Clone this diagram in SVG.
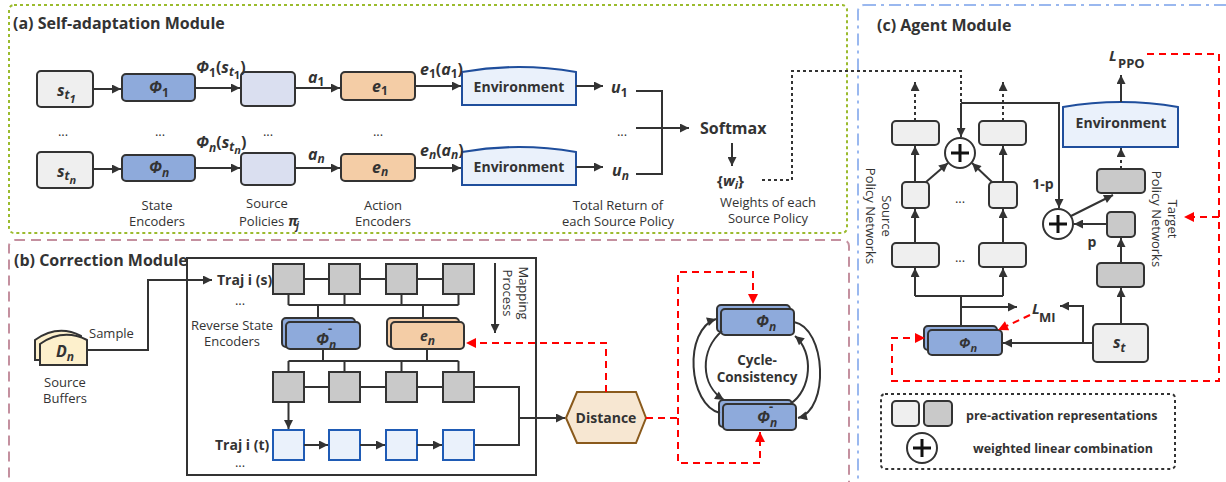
<svg xmlns="http://www.w3.org/2000/svg" width="1226" height="482" viewBox="0 0 1226 482">
<style>
text{font-family:"Open Sans","Noto Sans","DejaVu Sans",sans-serif;fill:#333}
.t{font-size:16px;font-weight:bold}
.lb{font-size:13px}
.b{font-size:14px;font-weight:bold}
.m{font-size:16px;font-weight:bold;font-style:italic}
.mn{font-size:13px;font-weight:bold}
.bx{stroke:#333;stroke-width:2}
.g1{fill:#efefef}.bl{fill:#8eaadb}.pc{fill:#f4cda6}.lv{fill:#dadff0}.dg{fill:#c9c9c9}.lb2{fill:#eaf1fb;stroke:#1f5bb5;stroke-width:2}
.env{fill:#eaf1fb;stroke:#1f4e9c;stroke-width:2}
.ln{fill:none;stroke:#333;stroke-width:2}
.ar{marker-end:url(#ah)}
.dt{fill:none;stroke:#333;stroke-width:2;stroke-dasharray:3,3}
.rd{fill:none;stroke:#f00;stroke-width:2;stroke-dasharray:7,5}
.ra{marker-end:url(#rh)}
</style>
<defs>
<marker id="ah" viewBox="0 0 10 10" refX="10" refY="5" markerWidth="12" markerHeight="9" markerUnits="userSpaceOnUse" orient="auto"><path d="M0,0L10,5L0,10z" fill="#333"/></marker>
<marker id="rh" viewBox="0 0 10 10" refX="10" refY="5" markerWidth="14" markerHeight="10" markerUnits="userSpaceOnUse" orient="auto"><path d="M0,0L10,5L0,10z" fill="#f00"/></marker>
<g id="plus"><circle r="15" fill="#fff" stroke="#333" stroke-width="2"/><path d="M-9,0H9M0,-9V9" stroke="#111" stroke-width="3"/></g>
</defs>
<rect width="1226" height="482" fill="#fff"/>

<!-- frames -->
<g id="frames">
<rect x="9" y="5" width="838" height="228" rx="5" fill="none" stroke="#9bbb2e" stroke-width="2" stroke-dasharray="3,3"/>
<rect x="9" y="240" width="840" height="262" rx="6" fill="none" stroke="#c4909f" stroke-width="2" stroke-dasharray="10,6"/>
<rect x="858" y="5" width="390" height="500" rx="6" fill="none" stroke="#9ab8ef" stroke-width="2" stroke-dasharray="12,5,3,5"/>
<text x="13" y="29" class="t">(a) Self-adaptation Module</text>
<text x="14" y="266" class="t">(b) Correction Module</text>
<text x="877" y="31" class="t">(c) Agent Module</text>
</g>

<!-- (a) nodes -->
<g id="a-s1"><rect x="37" y="71" width="56" height="36" rx="4" class="bx g1"/><text x="57" y="96" class="m">s<tspan font-size="12" dy="3">t</tspan><tspan font-size="11" dy="4">1</tspan></text></g>
<g id="a-sn"><rect x="37" y="152" width="56" height="36" rx="4" class="bx g1"/><text x="57" y="177" class="m">s<tspan font-size="12" dy="3">t</tspan><tspan font-size="11" dy="4">n</tspan></text></g>
<g id="a-phi1"><rect x="122" y="74" width="73" height="27" rx="4" class="bx bl"/><text x="149" y="93" class="m">Φ<tspan font-size="12" dy="4" font-style="normal">1</tspan></text></g>
<g id="a-phin"><rect x="122" y="155" width="73" height="26" rx="4" class="bx bl"/><text x="149" y="173" class="m">Φ<tspan font-size="12" dy="4">n</tspan></text></g>
<g id="a-pi1"><rect x="241" y="72" width="54" height="34" rx="4" class="bx lv"/></g>
<g id="a-pin"><rect x="241" y="153" width="54" height="32" rx="4" class="bx lv"/></g>
<g id="a-e1"><rect x="341" y="72" width="74" height="28" rx="4" class="bx pc"/><text x="372" y="92" class="m">e<tspan font-size="12" dy="3" font-style="normal">1</tspan></text></g>
<g id="a-en"><rect x="341" y="154" width="74" height="27" rx="4" class="bx pc"/><text x="372" y="173" class="m">e<tspan font-size="12" dy="3">n</tspan></text></g>
<g id="a-env1"><path d="M462,72Q519,62 576,72V105H462Z" class="env"/><text x="519" y="92" class="b" text-anchor="middle">Environment</text></g>
<g id="a-envn"><path d="M462,152Q519,142 576,152V185H462Z" class="env"/><text x="519" y="172" class="b" text-anchor="middle">Environment</text></g>
<g id="a-softmax"><text x="700" y="134" class="t">Softmax</text></g>
<g id="a-labels" class="lb">
<text x="157" y="210" class="lb" text-anchor="middle">State</text><text x="157" y="226" class="lb" text-anchor="middle">Encoders</text>
<text x="267" y="208" class="lb" text-anchor="middle">Source</text><text x="239" y="226" class="lb">Policies</text><text x="288" y="226" font-size="14" font-weight="bold" font-style="italic">π</text><text x="296" y="229" font-size="10" font-weight="bold" font-style="italic">j</text>
<text x="383" y="210" class="lb" text-anchor="middle">Action</text><text x="383" y="226" class="lb" text-anchor="middle">Encoders</text>
<text x="618" y="210" class="lb" text-anchor="middle">Total Return of</text><text x="618" y="226" class="lb" text-anchor="middle">each Source Policy</text>
<text x="768" y="207" class="lb" text-anchor="middle">Weights of each</text><text x="768" y="223" class="lb" text-anchor="middle">Source Policy</text>
<text x="63" y="136" class="lb" text-anchor="middle">...</text><text x="160" y="136" class="lb" text-anchor="middle">...</text><text x="268" y="136" class="lb" text-anchor="middle">...</text><text x="378" y="136" class="lb" text-anchor="middle">...</text><text x="622" y="136" class="lb" text-anchor="middle">...</text>
</g>
<g id="a-math">
<text x="196" y="73" class="m">Φ<tspan font-size="12" dy="4" font-style="normal">1</tspan><tspan dy="-4" font-style="normal">(</tspan>s<tspan font-size="12" dy="3">t</tspan><tspan font-size="11" dy="3" font-style="normal">1</tspan><tspan dy="-6" font-style="normal">)</tspan></text>
<text x="196" y="148" class="m">Φ<tspan font-size="12" dy="4">n</tspan><tspan dy="-4" font-style="normal">(</tspan>s<tspan font-size="12" dy="3">t</tspan><tspan font-size="11" dy="3">n</tspan><tspan dy="-6" font-style="normal">)</tspan></text>
<text x="308" y="83" class="m">a<tspan font-size="12" dy="3" font-style="normal">1</tspan></text>
<text x="308" y="160" class="m">a<tspan font-size="12" dy="3">n</tspan></text>
<text x="420" y="75" class="m">e<tspan font-size="12" dy="3" font-style="normal">1</tspan><tspan dy="-3" font-style="normal">(</tspan>a<tspan font-size="12" dy="3" font-style="normal">1</tspan><tspan dy="-3" font-style="normal">)</tspan></text>
<text x="420" y="156" class="m">e<tspan font-size="12" dy="3">n</tspan><tspan dy="-3" font-style="normal">(</tspan>a<tspan font-size="12" dy="3">n</tspan><tspan dy="-3" font-style="normal">)</tspan></text>
<text x="611" y="93" class="m">u<tspan font-size="12" dy="4" font-style="normal">1</tspan></text>
<text x="612" y="176" class="m">u<tspan font-size="12" dy="4">n</tspan></text>
<text x="717" y="186" font-size="15" font-weight="bold">{<tspan font-style="italic">w</tspan><tspan font-style="italic" font-size="11" dy="3">i</tspan><tspan dy="-3">}</tspan></text>
</g>

<!-- (b) nodes -->
<g id="b-buffer"><path d="M35,340Q58,324 81,336V360H35Z" fill="#fdf0cc" stroke="#333" stroke-width="2"/><path d="M40,344Q63,328 87,340V365H40Z" fill="#fdf0cc" stroke="#333" stroke-width="2"/><text x="56" y="357" class="m">D<tspan font-size="12" dy="4">n</tspan></text>
<text x="65" y="387" class="lb" text-anchor="middle">Source</text><text x="65" y="403" class="lb" text-anchor="middle">Buffers</text><text x="89" y="338" class="lb">Sample</text></g>
<g id="b-frame"><rect x="187" y="258" width="349" height="217" fill="none" stroke="#333" stroke-width="2"/></g>
<g id="b-traj-s">
<text x="217" y="285" class="b">Traj i (s)</text><text x="240" y="305" class="lb" text-anchor="middle">...</text>
<path d="M304,279H443" class="ln"/>
<rect x="273" y="264" width="31" height="30" class="bx dg"/><rect x="329" y="264" width="31" height="30" class="bx dg"/><rect x="386" y="264" width="31" height="30" class="bx dg"/><rect x="443" y="264" width="31" height="30" class="bx dg"/>
</g>
<g id="b-rev"><text x="232" y="330" class="lb" text-anchor="middle">Reverse State</text><text x="232" y="346" class="lb" text-anchor="middle">Encoders</text>
<rect x="282" y="318" width="73" height="29" rx="4" class="bx bl"/><rect x="286" y="322" width="74" height="27" rx="4" class="bx bl"/>
<text x="316" y="345" class="m">Φ<tspan font-size="12" dy="4">n</tspan></text><text x="328" y="333" class="mn">-</text></g>
<g id="b-en"><rect x="387" y="318" width="72" height="29" rx="4" class="bx pc"/><rect x="391" y="322" width="73" height="27" rx="4" class="bx pc"/><text x="420" y="341" font-size="14" font-weight="bold" font-style="italic">e<tspan font-size="12" dy="4">n</tspan></text></g>
<g id="b-row2">
<path d="M304,387H519V445H474" class="ln"/>
<rect x="273" y="372" width="31" height="30" class="bx dg"/><rect x="329" y="372" width="31" height="30" class="bx dg"/><rect x="386" y="372" width="31" height="30" class="bx dg"/><rect x="443" y="372" width="31" height="30" class="bx dg"/>
</g>
<g id="b-traj-t">
<text x="215" y="450" class="b">Traj i (t)</text><text x="240" y="467" class="lb" text-anchor="middle">...</text>
<rect x="273" y="430" width="31" height="30" class="lb2"/><rect x="329" y="430" width="31" height="30" class="lb2"/><rect x="386" y="430" width="31" height="30" class="lb2"/><rect x="443" y="430" width="31" height="30" class="lb2"/>
</g>
<g id="b-mapping"><text transform="translate(519,293) rotate(90)" class="lb" text-anchor="middle">Mapping<tspan x="0" dy="16">Process</tspan></text></g>
<g id="b-distance"><path d="M566,418L577,392H636L646,418L636,443H577Z" fill="#f7e7d2" stroke="#8a5a1c" stroke-width="2"/><text x="606" y="423" class="b" text-anchor="middle">Distance</text></g>
<g id="b-cyc-phi"><rect x="717" y="305" width="73" height="27" rx="4" class="bx bl"/><rect x="721" y="309" width="73" height="26" rx="4" class="bx bl"/><text x="756" y="327" class="m">Φ<tspan font-size="12" dy="4">n</tspan></text></g>
<g id="b-cyc-phim"><rect x="719" y="400" width="73" height="27" rx="4" class="bx bl"/><rect x="723" y="404" width="73" height="26" rx="4" class="bx bl"/><text x="757" y="423" class="m">Φ<tspan font-size="12" dy="4">n</tspan></text><text x="769" y="411" class="mn">-</text></g>
<g id="b-cyc-text"><text x="757" y="365" font-size="13.5" font-weight="bold" text-anchor="middle">Cycle-</text><text x="757" y="382" font-size="13.5" font-weight="bold" text-anchor="middle">Consistency</text></g>

<!-- (c) nodes -->
<g id="c-env"><path d="M1063,107Q1121,97 1178,107V147H1063Z" class="env"/><text x="1121" y="128" class="b" text-anchor="middle">Environment</text></g>
<g id="c-lppo"><text x="1109" y="61" font-size="15" font-weight="bold" font-style="italic">L</text><text x="1118" y="68" font-size="13" font-weight="bold">PPO</text></g>
<g id="c-src">
<rect x="892" y="121" width="47" height="24" rx="4" class="bx g1"/><rect x="979" y="121" width="47" height="24" rx="4" class="bx g1"/>
<rect x="902" y="182" width="27" height="26" rx="4" class="bx g1"/><rect x="989" y="182" width="28" height="26" rx="4" class="bx g1"/>
<rect x="892" y="243" width="47" height="24" rx="4" class="bx g1"/><rect x="979" y="243" width="47" height="24" rx="4" class="bx g1"/>
<text x="960" y="203" class="lb" text-anchor="middle">...</text><text x="960" y="262" class="lb" text-anchor="middle">...</text>
<text transform="translate(882,216) rotate(90)" class="lb" text-anchor="middle">Source<tspan x="0" dy="16">Policy Networks</tspan></text>
</g>
<g id="c-plus1"><use href="#plus" x="960" y="153"/></g>
<g id="c-plus2"><use href="#plus" x="1058" y="224"/></g>
<g id="c-tgt">
<rect x="1097" y="169" width="48" height="24" rx="4" class="bx dg"/>
<rect x="1107" y="212" width="28" height="25" rx="4" class="bx dg"/>
<rect x="1097" y="263" width="47" height="24" rx="4" class="bx dg"/>
<text transform="translate(1168,219) rotate(90)" class="lb" text-anchor="middle">Target<tspan x="0" dy="16">Policy Networks</tspan></text>
<text x="1043" y="189" class="b" text-anchor="middle">1-p</text><text x="1092" y="247" class="b" text-anchor="middle">p</text>
</g>
<g id="c-phin"><rect x="924" y="326" width="73" height="24" rx="4" class="bx bl"/><rect x="928" y="330" width="74" height="25" rx="4" class="bx bl"/><text x="959" y="348" font-size="14" font-weight="bold" font-style="italic">Φ<tspan font-size="11" dy="4">n</tspan></text></g>
<g id="c-st"><rect x="1093" y="324" width="55" height="38" rx="4" class="bx g1"/><text x="1113" y="348" class="m">s<tspan font-size="12" dy="4">t</tspan></text></g>
<g id="c-lmi"><text x="1032" y="314" font-size="15" font-weight="bold" font-style="italic">L</text><text x="1039" y="322" font-size="13" font-weight="bold">MI</text></g>
<g id="c-legend">
<rect x="881" y="394" width="294" height="75" rx="4" class="dt"/>
<rect x="892" y="401" width="27" height="25" rx="4" class="bx g1"/><rect x="924" y="401" width="28" height="25" rx="4" class="bx dg"/>
<use href="#plus" x="922" y="448"/>
<text x="966" y="420" font-size="12.5" font-weight="bold">pre-activation representations</text>
<text x="973" y="453" font-size="12.5" font-weight="bold">weighted linear combination</text>
</g>

<!-- connectors -->
<g id="connectors">
<path d="M93,89H121" class="ln ar"/><path d="M195,88H240" class="ln ar"/><path d="M295,88H340" class="ln ar"/><path d="M415,86H461" class="ln ar"/><path d="M576,86H603" class="ln ar"/>
<path d="M93,169H121" class="ln ar"/><path d="M195,168H240" class="ln ar"/><path d="M295,168H340" class="ln ar"/><path d="M415,168H461" class="ln ar"/><path d="M576,167H603" class="ln ar"/>
<path d="M636,91H662V174H636" class="ln"/><path d="M636,128H689" class="ln ar"/>
<path d="M732,143V166" class="ln ar"/>
<path d="M762,180H792V71H961V103" class="dt"/>
<!-- b -->
<path d="M87,350H148V280H212" class="ln ar"/>
<path d="M288.5,294V305M344.5,294V305M401.5,294V305M458.5,294V305M288.5,305H458.5M318,305V318M423,305V318" class="ln"/>
<path d="M323,349V361M427,349V361M288.5,361H458.5M288.5,361V372M344.5,361V372M401.5,361V372M458.5,361V372" class="ln"/>
<path d="M288.5,402V429" class="ln ar"/>
<path d="M304,445H328" class="ln ar"/><path d="M360,445H385" class="ln ar"/><path d="M417,445H442" class="ln ar"/>
<path d="M519,418H565" class="ln ar"/>
<path d="M495,263V333" class="ln ar"/>
<path d="M606,392V343H466" class="rd ra"/>
<path d="M646,418H678V272H753V304" class="rd ra"/>
<path d="M678,418V463H760V432" class="rd ra"/>
<path d="M720,413C688,405 683,330 716,319" class="ln ar"/>
<path d="M722,331C700,350 700,385 724,400" class="ln ar"/>
<path d="M794,322C826,328 830,410 798,418" class="ln ar"/>
<path d="M790,404C812,390 814,352 795,336" class="ln ar"/>
<!-- c -->
<path d="M961,103V137" class="ln ar"/><path d="M961,103H1059V208" class="ln ar"/>
<path d="M915,121V82M1003,121V82" class="dt"/>
<path d="M915,90V82" class="ln ar"/><path d="M1003,90V82" class="ln ar"/>
<path d="M915,182V146" class="ln ar"/><path d="M1003,182V146" class="ln ar"/>
<path d="M926,182L948,163" class="ln ar"/><path d="M992,182L972,163" class="ln ar"/>
<path d="M915,243V209" class="ln ar"/><path d="M1003,243V209" class="ln ar"/>
<path d="M915,296H1003M961,326V296" class="ln"/>
<path d="M915,296V268" class="ln ar"/><path d="M1003,296V268" class="ln ar"/>
<path d="M961,307H1017" class="ln ar"/>
<path d="M1093,343H1003" class="ln ar"/>
<path d="M1083,343V306H1060" class="ln ar"/>
<path d="M1121,324V288" class="ln ar"/><path d="M1121,263V238" class="ln ar"/>
<path d="M1107,224H1074" class="ln ar"/>
<path d="M1071,216L1113,195" class="ln ar"/>
<path d="M1121,169V148" class="dt"/><path d="M1121,156V148" class="ln ar"/>
<path d="M1121,102V75" class="ln ar"/>
<path d="M1147,54H1219V381H892V338H925" class="rd ra"/>
<path d="M1219,217H1184" class="rd ra"/>
<path d="M1030,315L998,330" class="rd ra"/>
</g>
</svg>
